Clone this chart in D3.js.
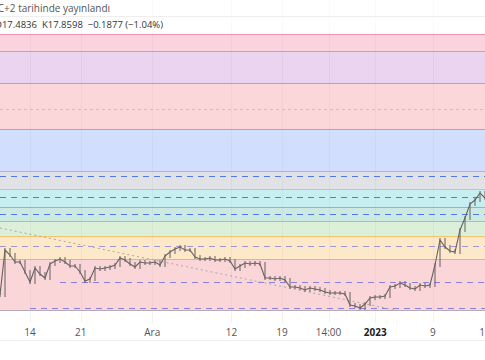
<!DOCTYPE html>
<html>
<head>
<meta charset="utf-8">
<script src="https://cdn.jsdelivr.net/npm/d3@7"></script>
<style>
  body { margin: 0; background: #fff; overflow: hidden; }
  text { font-family: "Open Sans", "Noto Sans", sans-serif; }
</style>
</head>
<body>
<script>
(function () {

// closing prices, one every bar slot
var closes = [17.375, 17.60, 17.575, 17.54, 17.54, 17.49, 17.44, 17.51, 17.48, 17.46,
  17.53, 17.545, 17.555, 17.54, 17.52, 17.52, 17.49, 17.445, 17.455, 17.51,
  17.505, 17.51, 17.515, 17.525, 17.56, 17.55, 17.53, 17.515, 17.54, 17.535,
  17.535, 17.54, 17.525, 17.57, 17.59, 17.605, 17.615, 17.60, 17.60, 17.565,
  17.555, 17.555, 17.56, 17.55, 17.55, 17.555, 17.545, 17.505, 17.52, 17.535,
  17.53, 17.535, 17.53, 17.46, 17.46, 17.455, 17.46, 17.45, 17.415, 17.415,
  17.41, 17.40, 17.41, 17.405, 17.40, 17.39, 17.385, 17.385, 17.385, 17.38,
  17.325, 17.32, 17.31, 17.33, 17.36, 17.365, 17.365, 17.37, 17.415, 17.42,
  17.435, 17.425, 17.41, 17.405, 17.425, 17.42, 17.425, 17.525, 17.65, 17.615,
  17.595, 17.59, 17.70, 17.76, 17.83, 17.85, 17.885, 17.86]

// fib style zones: top / bottom price, fill, edge line
var zoneTops = [18.68, 18.595, 18.435, 18.205, 17.995, 17.905, 17.815, 17.745, 17.67, 17.555]
var zoneBottoms = [18.595, 18.435, 18.205, 17.995, 17.905, 17.815, 17.745, 17.67, 17.555, 17.30]
var zoneFills = ['#fad3df', '#ead4ef', '#fbd7da', '#d2defd', '#e1e2e6', '#c7eff1', '#cdeae2', '#dcefd9', '#fde8c9', '#fad6d8']
var zoneLines = ['#f291b4', '#c99bd6', '#ee8d98', '#8eaaf2', '#b3b6bd', '#86dbe6', '#7fc5ad', '#9ccb98', '#f4c470', '#f0a3a9']

// dashed levels
var dashPrices = [18.305, 17.97, 17.865, 17.78, 17.62, 17.44, 17.31]
var dashStart = [0, 0, 0, 0, 0, 12, 6]
var dashColors = ['#e9a8b0', '#4f78ec', '#4f78ec', '#4f78ec', '#9a98dc', '#8a80e0', '#8a80e0']

// trend line (bar index, price)
var trendFrom = [0, 17.71]
var trendTo = [79, 17.30]

var tickPos = [6, 16.15, 30.45, 46.3, 56.4, 65.7, 75.05, 86.55, 97]
var tickLabels = ['14', '21', 'Ara', '12', '19', '14:00', '2023', '9', '16']

var width = 485,
    height = 360,
    plotBottom = 323

var svg = d3.select("body")
  .append("svg")
  .attr("width", width)
  .attr("height", height)

var x = d3.scaleLinear().domain([0, closes.length - 1]).range([0, 485])
var y = d3.scaleLinear().domain([17.30, 18.70]).range([310, 30])

// vertical grid
svg.selectAll(".vgrid")
  .data(tickPos)
  .enter().append("line")
  .attr("x1", function(d) { return Math.round(x(d)) + 0.5 })
  .attr("x2", function(d) { return Math.round(x(d)) + 0.5 })
  .attr("y1", 0)
  .attr("y2", plotBottom)
  .attr("stroke", "#000")
  .attr("stroke-opacity", 0.05)

var zones = zoneTops.map(function(t, i) {
  return { top: t, bottom: zoneBottoms[i], fill: zoneFills[i], line: zoneLines[i] }
})

svg.selectAll(".zone")
  .data(zones)
  .enter().append("rect")
  .attr("x", 0)
  .attr("width", width)
  .attr("y", function(d) { return y(d.top) })
  .attr("height", function(d) { return y(d.bottom) - y(d.top) })
  .attr("fill", function(d) { return d.fill })

svg.selectAll(".zoneline")
  .data(zones)
  .enter().append("line")
  .attr("x1", 0)
  .attr("x2", width)
  .attr("y1", function(d) { return Math.round(y(d.top)) + 0.5 })
  .attr("y2", function(d) { return Math.round(y(d.top)) + 0.5 })
  .attr("stroke", function(d) { return d.line })
  .attr("stroke-width", 1.2)

svg.append("line")
  .attr("x1", 0)
  .attr("x2", width)
  .attr("y1", Math.round(y(17.30)) + 0.5)
  .attr("y2", Math.round(y(17.30)) + 0.5)
  .attr("stroke", "#b8aab0")
  .attr("stroke-width", 1.2)

// grid inside zones, faint
svg.selectAll(".vgrid2")
  .data(tickPos)
  .enter().append("line")
  .attr("x1", function(d) { return Math.round(x(d)) + 0.5 })
  .attr("x2", function(d) { return Math.round(x(d)) + 0.5 })
  .attr("y1", 30)
  .attr("y2", 310)
  .attr("stroke", "#000")
  .attr("stroke-opacity", 0.03)

svg.selectAll(".dash")
  .data(dashPrices)
  .enter().append("line")
  .attr("x1", function(d, i) { return x(dashStart[i]) })
  .attr("x2", width)
  .attr("y1", function(d) { return Math.round(y(d)) + 0.5 })
  .attr("y2", function(d) { return Math.round(y(d)) + 0.5 })
  .attr("stroke", function(d, i) { return dashColors[i] })
  .attr("stroke-width", function(d, i) { return i == 0 ? 0.8 : 1.2 })
  .attr("stroke-dasharray", function(d, i) { return i == 0 ? "3 3" : "6 5" })

svg.append("line")
  .attr("x1", x(trendFrom[0]))
  .attr("y1", y(trendFrom[1]))
  .attr("x2", x(trendTo[0]))
  .attr("y2", y(trendTo[1]))
  .attr("stroke", "#a9a9a9")
  .attr("stroke-width", 1)
  .attr("stroke-dasharray", "2 3")

// bars: body from previous close to close, with short wicks
var bars = svg.append("g")
bars.selectAll("line")
  .data(closes)
  .enter().append("line")
  .attr("x1", function(d, i) { return x(i) })
  .attr("x2", function(d, i) { return x(i) })
  .attr("y1", function(d, i) {
    var p = i > 0 ? closes[i - 1] : d
    return y(Math.max(p, d)) - 2
  })
  .attr("y2", function(d, i) {
    var p = i > 0 ? closes[i - 1] : d
    return y(Math.min(p, d)) + 2
  })
  .attr("stroke", "#666060")
  .attr("stroke-width", 1)

var line = d3.line()
  .x(function(d, i) { return x(i) })
  .y(function(d) { return y(d) })

svg.append("path")
  .datum(closes)
  .attr("d", line)
  .attr("fill", "none")
  .attr("stroke", "#666060")
  .attr("stroke-width", 1.1)

// header
svg.append("rect")
  .attr("x", 0).attr("y", 0)
  .attr("width", width).attr("height", Math.round(y(18.68)))
  .attr("fill", "#fff")
  .attr("fill-opacity", 0.6)

svg.append("text")
  .attr("x", -15)
  .attr("y", 12)
  .attr("font-size", 10)
  .attr("fill", "#555")
  .text("UTC+2 tarihinde yayınlandı")

svg.append("line")
  .attr("x1", 0).attr("x2", width)
  .attr("y1", 16.5).attr("y2", 16.5)
  .attr("stroke", "#eee")

svg.append("text")
  .attr("x", -5)
  .attr("y", 28)
  .attr("font-size", 9.5)
  .attr("fill", "#333")
  .attr("xml:space", "preserve")
  .text("D17.4836  K17.8598  −0.1877 (−1.04%)")

// x axis
svg.selectAll(".tick")
  .data(tickLabels)
  .enter().append("text")
  .attr("x", function(d, i) { return x(tickPos[i]) })
  .attr("y", 336)
  .attr("text-anchor", "middle")
  .attr("font-size", 10)
  .attr("font-weight", function(d) { return d == '2023' ? 'bold' : 'normal' })
  .attr("fill", function(d) { return d == '2023' ? '#222' : '#555' })
  .text(function(d) { return d })

svg.append("line")
  .attr("x1", 0).attr("x2", width)
  .attr("y1", 340.5).attr("y2", 340.5)
  .attr("stroke", "#eceef2")

}) ()
</script>
</body>
</html>
